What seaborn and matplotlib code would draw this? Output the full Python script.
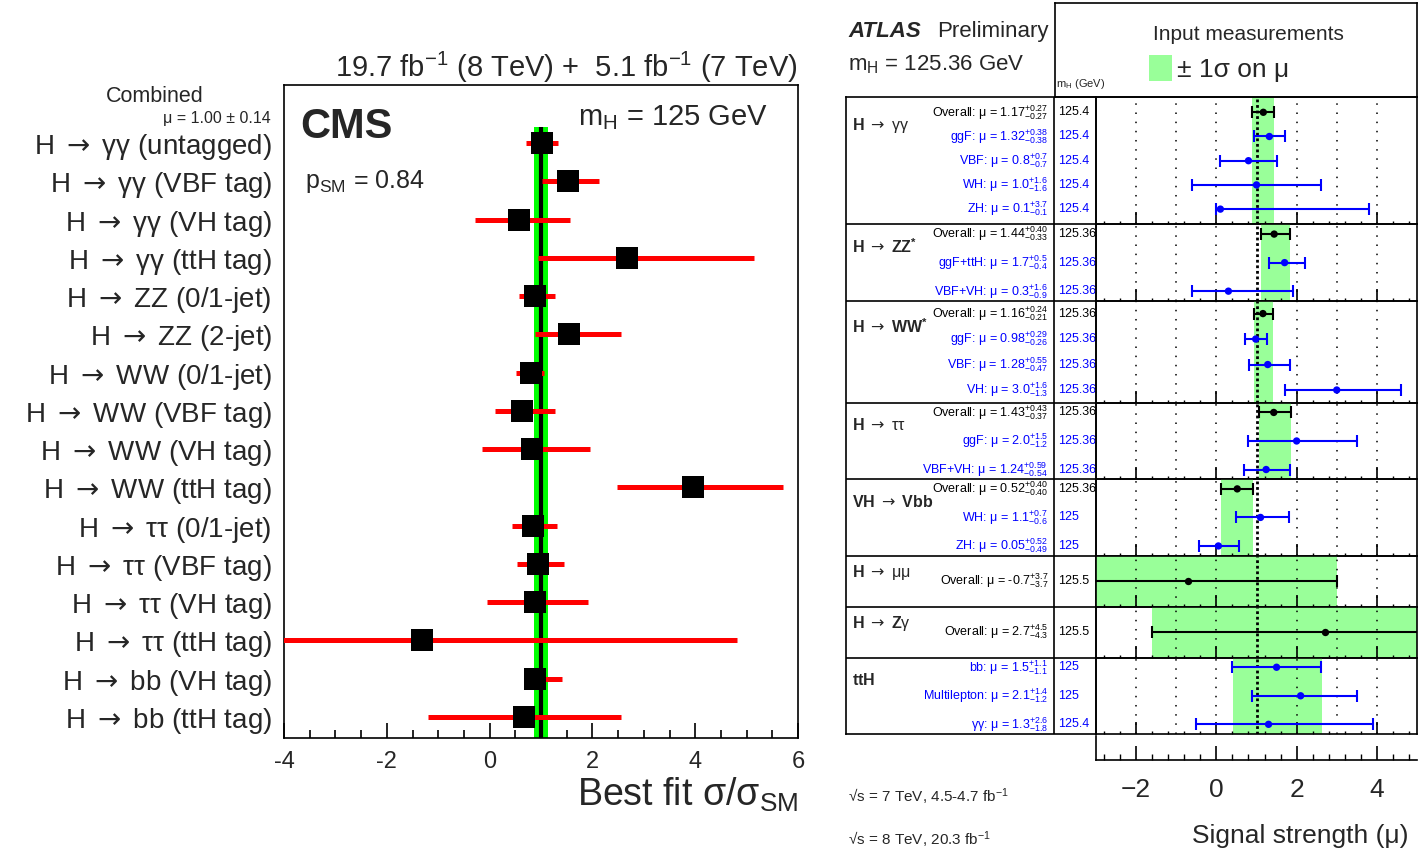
import numpy as np
import pandas as pd
import matplotlib
matplotlib.use("Agg")
import matplotlib.pyplot as plt
import seaborn as sns
from matplotlib.ticker import MultipleLocator
from matplotlib.patches import Rectangle

# ---------------- CMS data ----------------
cms_labels = ["H → γγ (untagged)", "H → γγ (VBF tag)", "H → γγ (VH tag)", "H → γγ (ttH tag)",
              "H → ZZ (0/1-jet)", "H → ZZ (2-jet)",
              "H → WW (0/1-jet)", "H → WW (VBF tag)", "H → WW (VH tag)", "H → WW (ttH tag)",
              "H → ττ (0/1-jet)", "H → ττ (VBF tag)", "H → ττ (VH tag)", "H → ττ (ttH tag)",
              "H → bb (VH tag)", "H → bb (ttH tag)"]
cms_mu = [1.01, 1.52, 0.57, 2.67, 0.88, 1.55, 0.80, 0.63, 0.82, 3.96, 0.85, 0.95, 0.88, -1.32, 0.88, 0.66]
cms_lo = [0.70, 1.02, -0.28, 0.94, 0.57, 0.88, 0.52, 0.11, -0.15, 2.48, 0.44, 0.53, -0.05, -4.10, 0.73, -1.19]
cms_hi = [1.34, 2.13, 1.56, 5.14, 1.27, 2.56, 1.06, 1.27, 1.95, 5.71, 1.32, 1.44, 1.92, 4.81, 1.41, 2.55]
cms_comb_mu = 1.00
cms_comb_err = 0.14
cms_psm = "0.84"
cms_ticks = [-4, -2, 0, 2, 4, 6]
cms_tick_labels = ["-4", "-2", "0", "2", "4", "6"]

# ---------------- ATLAS data ----------------
atlas_titles = [r"$\mathbf{H}$ → γγ", r"$\mathbf{H}$ → $\mathbf{ZZ^{*}}$", r"$\mathbf{H}$ → $\mathbf{WW^{*}}$",
                r"$\mathbf{H}$ → ττ", r"$\mathbf{VH}$ → $\mathbf{Vbb}$", r"$\mathbf{H}$ → μμ",
                r"$\mathbf{H}$ → $\mathbf{Z}$γ", r"$\mathbf{ttH}$"]
atlas_section = [0, 0, 0, 0, 0, 1, 1, 1, 2, 2, 2, 2, 3, 3, 3, 4, 4, 4, 5, 6, 7, 7, 7]
atlas_name = ["Overall", "ggF", "VBF", "WH", "ZH",
              "Overall", "ggF+ttH", "VBF+VH",
              "Overall", "ggF", "VBF", "VH",
              "Overall", "ggF", "VBF+VH",
              "Overall", "WH", "ZH",
              "Overall", "Overall",
              "bb", "Multilepton", "γγ"]
atlas_mu = ["1.17", "1.32", "0.8", "1.0", "0.1",
            "1.44", "1.7", "0.3",
            "1.16", "0.98", "1.28", "3.0",
            "1.43", "2.0", "1.24",
            "0.52", "1.1", "0.05",
            "-0.7", "2.7",
            "1.5", "2.1", "1.3"]
atlas_up = ["0.27", "0.38", "0.7", "1.6", "3.7",
            "0.40", "0.5", "1.6",
            "0.24", "0.29", "0.55", "1.6",
            "0.43", "1.5", "0.59",
            "0.40", "0.7", "0.52",
            "3.7", "4.5",
            "1.1", "1.4", "2.6"]
atlas_dn = ["0.27", "0.38", "0.7", "1.6", "0.1",
            "0.33", "0.4", "0.9",
            "0.21", "0.26", "0.47", "1.3",
            "0.37", "1.2", "0.54",
            "0.40", "0.6", "0.49",
            "3.7", "4.3",
            "1.1", "1.2", "1.8"]
atlas_mh = ["125.4", "125.4", "125.4", "125.4", "125.4",
            "125.36", "125.36", "125.36",
            "125.36", "125.36", "125.36", "125.36",
            "125.36", "125.36", "125.36",
            "125.36", "125", "125",
            "125.5", "125.5",
            "125", "125", "125.4"]
atlas_sec_rows = [5, 3, 4, 3, 3, 2, 2, 3]
tth_band = (1.52, 1.1, 1.1)   # ttH combined band (mu, +, -)
atlas_ticks = [-2, 0, 2, 4]
atlas_tick_labels = ["−2", "0", "2", "4"]

# ---------------- style ----------------
sns.set_theme(style="white")
plt.rcParams["font.family"] = ["Liberation Sans", "DejaVu Sans"]
plt.rcParams["mathtext.fontset"] = "custom"
plt.rcParams["mathtext.rm"] = "Liberation Sans"
plt.rcParams["mathtext.it"] = "Liberation Sans:italic"
plt.rcParams["mathtext.bf"] = "Liberation Sans:bold"
plt.rcParams["mathtext.sf"] = "DejaVu Sans"
plt.rcParams["axes.edgecolor"] = "black"
plt.rcParams["axes.unicode_minus"] = False

ARROW = r"$\mathsf{\rightarrow}$"


def arr(s):
    return s.replace("→", ARROW)


W, H = 1420, 850
fig = plt.figure(figsize=(W / 100, H / 100), dpi=100)
fig.patch.set_facecolor("white")


def rect(x0, y0, x1, y1):
    return [x0 / W, 1 - y1 / H, (x1 - x0) / W, (y1 - y0) / H]


# ================= CMS panel =================
ax = fig.add_axes(rect(284, 85, 798, 738))
rows = np.arange(len(cms_labels))
dy = (717 - 143) / 15
y_top = -(143 - 85) / dy
y_bot = 15 + (738 - 717) / dy
band_top = -(143 - 127) / dy
ax.fill_betweenx([band_top, y_bot], cms_comb_mu - cms_comb_err, cms_comb_mu + cms_comb_err,
                 color="#00ff00", lw=0, zorder=1)
ax.vlines(cms_comb_mu, band_top, y_bot, color="black", lw=3, zorder=2)
ax.hlines(rows, cms_lo, cms_hi, color="#ff0000", lw=3.6, zorder=3)
dfc = pd.DataFrame({"mu": cms_mu, "row": rows})
sns.scatterplot(data=dfc, x="mu", y="row", marker="s", s=250, color="black", linewidth=0,
                ax=ax, zorder=4, legend=False)
ax.set_xlim(-4, 6)
ax.set_ylim(y_bot, y_top)
ax.set_xlabel("")
ax.set_ylabel("")
ax.set_yticks(rows, [arr(l) for l in cms_labels])
ax.tick_params(axis="y", length=0, pad=8.6, labelsize=20, left=True)
ax.set_xticks(cms_ticks, cms_tick_labels)
ax.xaxis.set_minor_locator(MultipleLocator(0.5))
ax.tick_params(axis="x", which="both", direction="in", bottom=True, top=False, labelsize=17,
               pad=9, color="black")
ax.tick_params(axis="x", which="major", length=11, width=1.2)
ax.tick_params(axis="x", which="minor", length=5.5, width=1.2)
for s in ax.spines.values():
    s.set_linewidth(1.2)
    s.set_color("black")
ax.set_title(r"19.7 fb$^{\mathregular{-1}}$ (8 TeV) +  5.1 fb$^{\mathregular{-1}}$ (7 TeV)",
             loc="right", pad=6, fontsize=21)
ax.text((300 - 284) / 514, (738 - 137.5) / 653, "CMS", transform=ax.transAxes, fontsize=30,
        fontweight="bold", va="baseline", ha="left")
ax.text((305 - 284) / 514, (738 - 188) / 653, r"p$_{\mathregular{SM}}$ = " + cms_psm,
        transform=ax.transAxes, fontsize=18, va="baseline", ha="left")
ax.text((768 - 284) / 514, (738 - 125.5) / 653, r"m$_{\mathregular{H}}$ = 125 GeV",
        transform=ax.transAxes, fontsize=21, va="baseline", ha="right")
ax.text(1.0, (738 - 806) / 653, r"Best fit σ/σ$_{\mathregular{SM}}$", transform=ax.transAxes,
        fontsize=27, va="baseline", ha="right")

# ================= ATLAS panel =================
unit = (734 - 97) / sum(atlas_sec_rows)
green = "#99ff99"
mu_f = np.array([float(v) for v in atlas_mu])
up_f = np.array([float(v) for v in atlas_up])
dn_f = np.array([float(v) for v in atlas_dn])
sec_arr = np.array(atlas_section)
margins = {2: 1.0, 3: 0.38, 4: 0.5, 5: 0.6}

# row positions (in row units from the table top)
ypos = np.zeros(len(atlas_mu))
sec_top = np.concatenate([[0], np.cumsum(atlas_sec_rows)[:-1]])
for s, n in enumerate(atlas_sec_rows):
    idx = np.where(sec_arr == s)[0]
    k = len(idx)
    if k == 1:
        loc = np.array([n / 2])
    else:
        m = margins[n]
        loc = np.linspace(m, n - m, k)
    ypos[idx] = sec_top[s] + loc

# label table
lab = fig.add_axes(rect(846, 97, 1096, 734))
lab.set_xlim(846, 1096)
lab.set_ylim(sum(atlas_sec_rows), 0)
lab.set_xticks([])
lab.set_yticks([])
for s in lab.spines.values():
    s.set_linewidth(1.2)
    s.set_color("black")
for b in np.cumsum(atlas_sec_rows)[:-1]:
    lab.axhline(b, color="black", lw=1.2)
lab.axvline(1054, color="black", lw=1.2)
for i in range(len(atlas_mu)):
    col = "black" if atlas_name[i] == "Overall" else "#0000ff"
    txt = (atlas_name[i] + ": μ = " + atlas_mu[i] +
           r"$^{\mathregular{+" + atlas_up[i] + r"}}_{\mathregular{-" + atlas_dn[i] + r"}}$")
    lab.text(1048, ypos[i], txt, ha="right", va="center", fontsize=9, color=col)
    lab.text(1058, ypos[i], atlas_mh[i], ha="left", va="center", fontsize=9, color=col)
for s, n in enumerate(atlas_sec_rows):
    idx = np.where(sec_arr == s)[0]
    first = ypos[idx[0]] - sec_top[s]
    off = 0.67 if len(idx) == 1 else first + 0.5
    lab.text(852, sec_top[s] + off, arr(atlas_titles[s]), ha="left", va="center", fontsize=11.5)

# section plots
for s, n in enumerate(atlas_sec_rows):
    top_px = 97 + sec_top[s] * unit
    sa = fig.add_axes(rect(1096, top_px, 1417, top_px + n * unit))
    idx = np.where(sec_arr == s)[0]
    yl = ypos[idx] - sec_top[s]
    ov_i = [i for i in idx if atlas_name[i] == "Overall"]
    if ov_i:
        i0 = ov_i[0]
        blo, bhi = mu_f[i0] - dn_f[i0], mu_f[i0] + up_f[i0]
    else:
        blo, bhi = tth_band[0] - tth_band[2], tth_band[0] + tth_band[1]
    sa.axvspan(blo, bhi, color=green, lw=0, zorder=0)
    for x in range(-2, 5):
        if x != 1:
            sa.axvline(x, color="black", lw=1.1, ls=(0, (1, 5)), zorder=1)
    sa.axvline(1, color="black", lw=2.0, ls=(0, (1, 1)), zorder=2)
    df = pd.DataFrame({"mu": mu_f[idx], "y": yl,
                       "kind": ["Overall" if atlas_name[i] == "Overall" else "channel" for i in idx]})
    for kind, col in [("Overall", "black"), ("channel", "#0000ff")]:
        d = df[df.kind == kind]
        if len(d):
            ii = idx[(df.kind == kind).values]
            sa.errorbar(d["mu"], d["y"], xerr=[dn_f[ii], up_f[ii]], fmt="none", ecolor=col,
                        elinewidth=1.5, capsize=4, capthick=1.5, zorder=3)
    sns.scatterplot(data=df, x="mu", y="y", hue="kind",
                    palette={"Overall": "black", "channel": "#0000ff"}, s=28, linewidth=0,
                    ax=sa, legend=False, zorder=4)
    sa.set_xlim(-3, 5)
    sa.set_ylim(n, 0)
    sa.set_xlabel("")
    sa.set_ylabel("")
    sa.set_yticks([])
    sa.xaxis.set_major_locator(MultipleLocator(2))
    sa.xaxis.set_minor_locator(MultipleLocator(0.4))
    sa.tick_params(axis="x", which="both", direction="in", bottom=True, top=False,
                   labelbottom=False, color="black")
    sa.tick_params(axis="x", which="major", length=9, width=1.2)
    sa.tick_params(axis="x", which="minor", length=2.5, width=1.0)
    for sp in sa.spines.values():
        sp.set_linewidth(1.2)
        sp.set_color("black")
    sa.set_facecolor("none")

# bottom axis
bax = fig.add_axes(rect(1096, 736, 1417, 760))
bax.set_facecolor("none")
bax.set_xlim(-3, 5)
bax.set_yticks([])
bax.spines["top"].set_visible(False)
bax.spines["right"].set_visible(False)
for sp in ("left", "bottom"):
    bax.spines[sp].set_linewidth(1.2)
    bax.spines[sp].set_color("black")
bax.set_xticks(atlas_ticks, atlas_tick_labels)
bax.xaxis.set_minor_locator(MultipleLocator(0.4))
bax.tick_params(axis="x", which="both", direction="in", bottom=True, top=False, labelsize=19,
                pad=13, color="black")
bax.tick_params(axis="x", which="major", length=10, width=1.2)
bax.tick_params(axis="x", which="minor", length=4, width=1.0)

# header box
hdr = fig.add_axes(rect(1055, 3, 1417, 97))
hdr.set_facecolor("none")
hdr.set_xticks([])
hdr.set_yticks([])
for sp in hdr.spines.values():
    sp.set_linewidth(1.2)
    sp.set_color("black")

# overlay for free text (pixel coordinates)
ov = fig.add_axes([0, 0, 1, 1], zorder=10)
ov.set_xlim(0, W)
ov.set_ylim(H, 0)
ov.axis("off")
ov.patch.set_alpha(0)

ov.text(155, 102, "Combined", ha="center", va="baseline", fontsize=15.5)
ov.text(271, 123, "μ = %.2f ± %.2f" % (cms_comb_mu, cms_comb_err), ha="right", va="baseline",
        fontsize=11.5)

ov.text(848, 37, "ATLAS", ha="left", va="baseline", fontsize=16, fontweight="bold", fontstyle="italic")
ov.text(937, 37, "Preliminary", ha="left", va="baseline", fontsize=16)
ov.text(848, 70, r"m$_{\mathregular{H}}$ = 125.36 GeV", ha="left", va="baseline", fontsize=16)
ov.text(1248, 40, "Input measurements", ha="center", va="baseline", fontsize=15)
ov.add_patch(Rectangle((1149, 55), 23, 26, color=green, lw=0))
ov.text(1177, 77, "± 1σ on μ", ha="left", va="baseline", fontsize=19)
ov.text(1056, 87, r"m$_{\mathregular{H}}$ (GeV)", ha="left", va="baseline", fontsize=8)
ov.text(848, 802, r"√s = 7 TeV, 4.5-4.7 fb$^{\mathregular{-1}}$", ha="left", va="baseline", fontsize=11)
ov.text(848, 845, r"√s = 8 TeV, 20.3 fb$^{\mathregular{-1}}$", ha="left", va="baseline", fontsize=11)
ov.text(1408, 843, "Signal strength (μ)", ha="right", va="baseline", fontsize=19)

fig.savefig("out.png", dpi=100, facecolor="white")
